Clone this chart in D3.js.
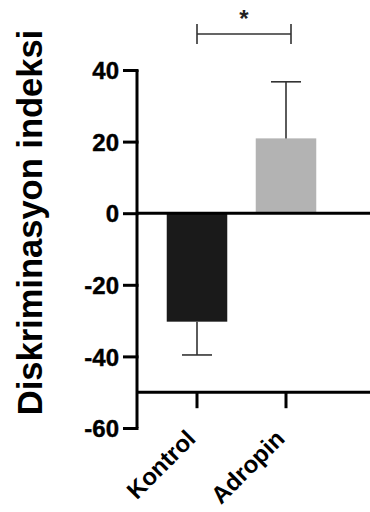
<!DOCTYPE html>
<html>
<head>
<meta charset="utf-8">
<script src="https://cdn.jsdelivr.net/npm/d3@7"></script>
<style>
  html, body { margin: 0; padding: 0; background: #fff; }
  svg { display: block; }
  text { font-family: "Liberation Sans", Arial, sans-serif; font-weight: bold; }
</style>
</head>
<body>
<svg id="chart" width="370" height="512"></svg>
<script>
// Group names, means and one-sided error (SEM) of the discrimination index
const groups = ["Kontrol", "Adropin"];
const means = [-30.3, 20.9];
const errors = [9.3, 15.8];
const barColors = ["#1a1a1a", "#b3b3b3"];
const yTicks = [-60, -40, -20, 0, 20, 40];
const yTitle = "Diskriminasyon indeksi";
const sigMark = "*";

const svg = d3.select("#chart");
const W = 370;

const y = d3.scaleLinear().domain([-60, 40]).range([428, 70]);
const x = d3.scaleBand().domain(groups).range([152.5, 330.5])
  .paddingInner(0.32).paddingOuter(0.16);
const axisX = 137;
const baseVal = -50; // where the category axis crosses

// Bars
svg.append("g").selectAll("rect").data(groups).join("rect")
  .attr("x", d => x(d))
  .attr("width", x.bandwidth())
  .attr("y", (d, i) => y(Math.max(0, means[i])))
  .attr("height", (d, i) => Math.abs(y(means[i]) - y(0)))
  .attr("fill", (d, i) => barColors[i]);

// Error bars (drawn outward from the bar end only)
const eb = svg.append("g").attr("stroke", "#333").attr("stroke-width", 1.6);
groups.forEach((g, i) => {
  const cx = x(g) + x.bandwidth() / 2;
  const dir = means[i] < 0 ? -1 : 1;
  const end = means[i] + dir * errors[i];
  eb.append("line").attr("x1", cx).attr("x2", cx)
    .attr("y1", y(means[i])).attr("y2", y(end));
  eb.append("line").attr("x1", cx - 15).attr("x2", cx + 15)
    .attr("y1", y(end)).attr("y2", y(end));
});

// Zero line
svg.append("line")
  .attr("x1", axisX).attr("x2", W)
  .attr("y1", y(0)).attr("y2", y(0))
  .attr("stroke", "#000").attr("stroke-width", 3);

// Y axis (plain hyphen for negatives)
const yAxis = svg.append("g")
  .attr("transform", `translate(${axisX},0)`)
  .call(d3.axisLeft(y).tickValues(yTicks).tickFormat(d => String(d))
    .tickSize(14).tickSizeOuter(0).tickPadding(4));
yAxis.attr("font-family", null).attr("font-size", null);
yAxis.select(".domain").attr("stroke", "#000").attr("stroke-width", 3)
  .attr("d", `M0,${y(40)}V${y(-60)}`);
yAxis.selectAll(".tick line").attr("stroke", "#000").attr("stroke-width", 3)
  .attr("x1", 1.5).attr("x2", -14);
yAxis.selectAll(".tick text")
  .attr("fill", "#000")
  .style("font-size", "24px")
  .style("stroke", "#000").style("stroke-width", "0.4px")
  .attr("dy", "0.36em");

// X axis
const xAxis = svg.append("g")
  .attr("transform", `translate(0,${y(baseVal)})`)
  .call(d3.axisBottom(x).tickSize(16).tickSizeOuter(0));
xAxis.attr("font-family", null).attr("font-size", null);
xAxis.select(".domain").attr("stroke", "#000").attr("stroke-width", 3)
  .attr("d", `M${axisX},0H${W}`);
xAxis.selectAll(".tick line").attr("stroke", "#000").attr("stroke-width", 3);
xAxis.selectAll(".tick text")
  .attr("fill", "#000")
  .style("font-size", "24px")
  .attr("text-anchor", "end")
  .attr("y", 0).attr("dy", 0)
  .attr("transform", "translate(0,48) rotate(-45)");

// Y title
svg.append("text")
  .attr("transform", `translate(42,${(30 + 415) / 2}) rotate(-90)`)
  .attr("text-anchor", "middle")
  .style("font-size", "34.5px")
  .attr("fill", "#000")
  .text(yTitle);

// Significance bracket
const bx1 = x(groups[0]) + x.bandwidth() / 2;
const bx2 = x(groups[1]) + x.bandwidth() / 2 + 5;
const br = svg.append("g").attr("stroke", "#333").attr("stroke-width", 1.6).attr("fill", "none");
br.append("path").attr("d", `M${bx1},24V44M${bx1},34H${bx2}M${bx2},24V44`);
svg.append("text")
  .attr("x", (bx1 + bx2) / 2).attr("y", 27)
  .attr("text-anchor", "middle")
  .style("font-size", "24px")
  .attr("fill", "#222")
  .text(sigMark);
</script>
</body>
</html>
